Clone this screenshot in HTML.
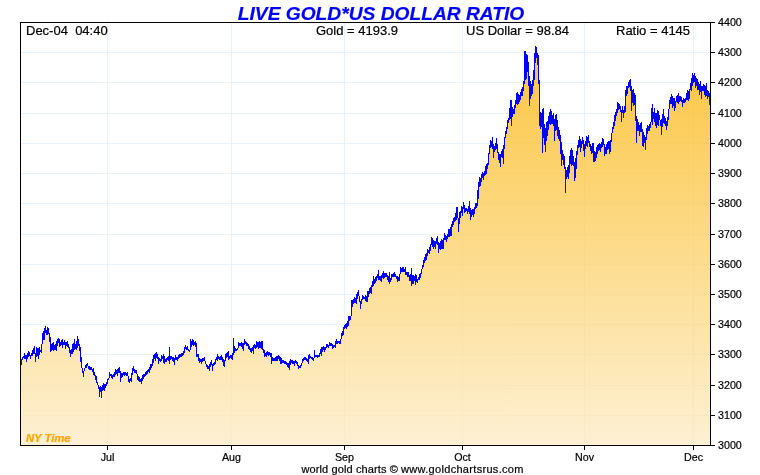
<!DOCTYPE html><html><head><meta charset="utf-8"><title>Live Gold*US Dollar Ratio</title><style>
html,body{margin:0;padding:0;background:#fff}body{width:760px;height:475px;position:relative;overflow:hidden;font-family:"Liberation Sans",Arial,sans-serif;color:#000}
.t{position:absolute;white-space:nowrap;line-height:1;-webkit-text-stroke:0.2px currentColor}
.title{font:italic bold 19.2px "Liberation Sans",Arial,sans-serif;color:#0000ff;left:1px;width:760px;text-align:center;top:3px}
.h{font-size:13px;top:24px}
.y{font-size:10.7px;left:718px}
.x{font-size:10.7px;top:452px;width:40px;text-align:center}
.ny{font:italic bold 11.25px "Liberation Sans",Arial,sans-serif;color:#ffa500;left:26px;top:432px}
.f{font-size:11px;left:301.5px;top:464px;letter-spacing:0.11px}.f span{letter-spacing:0.31px}
</style></head><body>
<svg width="760" height="475" viewBox="0 0 760 475" style="position:absolute;left:0;top:0" shape-rendering="crispEdges">
<defs><linearGradient id="g" gradientUnits="userSpaceOnUse" x1="0" y1="22" x2="0" y2="445"><stop offset="0" stop-color="#fcc338"/><stop offset="1" stop-color="#fdf0d3"/></linearGradient><clipPath id="c"><path d="M21,445V359H22V357H23V356H24V353H25V355H26V355H27V353H28V351H29V352H30V355H31V353H32V350H33V348H34V346H35V353H36V347H37V348H38V348H39V347H40V350H41V344H42V333H43V331H44V328H45V326H46V330H47V327H48V328H49V333H50V337H51V344H52V343H53V342H54V345H55V344H56V341H57V339H58V338H59V339H60V342H61V340H62V339H63V342H64V340H65V342H66V342H67V341H68V344H69V347H70V350H71V349H72V344H73V343H74V339H75V344H76V341H77V336H78V339H79V344H80V347H81V357H82V368H83V371H84V368H85V365H86V364H87V363H88V366H89V366H90V367H91V367H92V369H93V368H94V372H95V375H96V376H97V382H98V385H99V387H100V386H101V387H102V385H103V383H104V384H105V384H106V382H107V379H108V378H109V372H110V374H111V374H112V375H113V374H114V372H115V369H116V370H117V369H118V368H119V367H120V371H121V373H122V373H123V372H124V372H125V372H126V373H127V372H128V376H129V379H130V378H131V373H132V368H133V366H134V369H135V370H136V370H137V374H138V376H139V377H140V379H141V378H142V375H143V374H144V374H145V372H146V371H147V370H148V369H149V367H150V364H151V364H152V359H153V355H154V354H155V353H156V352H157V354H158V357H159V358H160V359H161V355H162V356H163V354H164V356H165V359H166V358H167V357H168V356H169V347H170V356H171V356H172V357H173V357H174V358H175V355H176V357H177V357H178V355H179V354H180V354H181V353H182V353H183V351H184V347H185V345H186V347H187V346H188V349H189V350H190V339H191V341H192V339H193V340H194V342H195V341H196V343H197V354H198V354H199V358H200V359H201V359H202V358H203V358H204V357H205V361H206V364H207V365H208V366H209V364H210V362H211V360H212V364H213V363H214V362H215V359H216V357H217V354H218V356H219V357H220V356H221V355H222V357H223V359H224V360H225V354H226V353H227V352H228V351H229V356H230V355H231V355H232V353H233V338H234V346H235V348H236V349H237V348H238V342H239V343H240V343H241V342H242V343H243V343H244V339H245V341H246V342H247V343H248V344H249V346H250V348H251V348H252V347H253V345H254V344H255V345H256V341H257V342H258V342H259V341H260V342H261V341H262V341H263V349H264V350H265V353H266V352H267V351H268V352H269V352H270V353H271V353H272V357H273V358H274V358H275V357H276V356H277V356H278V355H279V356H280V357H281V358H282V360H283V360H284V361H285V361H286V362H287V363H288V363H289V361H290V359H291V360H292V360H293V361H294V361H295V360H296V361H297V362H298V365H299V366H300V365H301V363H302V359H303V358H304V357H305V357H306V358H307V359H308V355H309V354H310V356H311V357H312V357H313V358H314V350H315V355H316V355H317V355H318V355H319V353H320V349H321V347H322V347H323V346H324V347H325V347H326V344H327V344H328V345H329V342H330V343H331V343H332V344H333V345H334V345H335V341H336V339H337V341H338V341H339V341H340V339H341V333H342V331H343V327H344V325H345V324H346V323H347V321H348V316H349V316H350V316H351V300H352V300H353V299H354V297H355V298H356V294H357V292H358V290H359V296H360V301H361V299H362V295H363V296H364V297H365V295H366V296H367V291H368V291H369V288H370V287H371V285H372V281H373V276H374V279H375V277H376V276H377V274H378V270H379V276H380V276H381V275H382V273H383V271H384V273H385V273H386V273H387V275H388V276H389V272H390V278H391V274H392V274H393V273H394V272H395V274H396V276H397V276H398V277H399V274H400V267H401V268H402V267H403V267H404V269H405V267H406V272H407V272H408V272H409V275H410V274H411V268H412V275H413V275H414V276H415V274H416V275H417V279H418V277H419V274H420V273H421V269H422V265H423V260H424V257H425V254H426V253H427V249H428V250H429V247H430V244H431V237H432V238H433V240H434V241H435V241H436V238H437V236H438V242H439V243H440V241H441V239H442V240H443V238H444V233H445V235H446V236H447V234H448V229H449V229H450V227H451V224H452V221H453V218H454V217H455V213H456V207H457V207H458V218H459V212H460V211H461V206H462V207H463V202H464V205H465V208H466V208H467V209H468V206H469V201H470V208H471V210H472V209H473V209H474V207H475V203H476V203H477V190H478V182H479V177H480V178H481V174H482V172H483V173H484V171H485V166H486V164H487V163H488V153H489V145H490V140H491V141H492V137H493V144H494V146H495V143H496V138H497V144H498V152H499V154H500V154H501V151H502V149H503V145H504V137H505V131H506V127H507V120H508V118H509V108H510V100H511V100H512V107H513V109H514V105H515V100H516V93H517V92H518V94H519V95H520V92H521V89H522V87H523V81H524V51H525V51H526V54H527V55H528V62H529V76H530V81H531V84H532V80H533V70H534V53H535V46H536V47H537V53H538V55H539V80H540V112H541V113H542V109H543V108H544V124H545V128H546V122H547V121H548V116H549V112H550V109H551V111H552V115H553V113H554V119H555V115H556V114H557V120H558V127H559V130H560V135H561V142H562V150H563V154H564V156H565V167H566V170H567V167H568V165H569V156H570V150H571V148H572V150H573V156H574V162H575V158H576V151H577V145H578V140H579V136H580V139H581V141H582V137H583V140H584V144H585V141H586V136H587V137H588V135H589V141H590V144H591V146H592V143H593V143H594V151H595V152H596V147H597V145H598V144H599V143H600V144H601V142H602V138H603V139H604V144H605V147H606V144H607V142H608V141H609V141H610V140H611V133H612V127H613V122H614V115H615V112H616V109H617V102H618V103H619V104H620V106H621V110H622V106H623V110H624V106H625V90H626V86H627V86H628V82H629V80H630V79H631V86H632V90H633V89H634V93H635V95H636V116H637V119H638V122H639V125H640V123H641V122H642V129H643V132H644V135H645V137H646V128H647V125H648V126H649V124H650V122H651V108H652V104H653V112H654V108H655V113H656V113H657V110H658V111H659V115H660V120H661V119H662V114H663V109H664V116H665V118H666V121H667V117H668V109H669V100H670V97H671V94H672V96H673V98H674V98H675V101H676V96H677V95H678V93H679V96H680V96H681V97H682V100H683V98H684V99H685V98H686V93H687V90H688V91H689V89H690V83H691V78H692V73H693V75H694V73H695V76H696V78H697V79H698V82H699V84H700V81H701V86H702V86H703V84H704V85H705V86H706V83H707V90H708V91H709V93H710V445Z"/></clipPath></defs>
<rect x="0" y="0" width="760" height="475" fill="#fff"/>
<rect x="21" y="415" width="689" height="1" fill="#e7f2fb"/>
<rect x="21" y="385" width="689" height="1" fill="#e7f2fb"/>
<rect x="21" y="354" width="689" height="1" fill="#e7f2fb"/>
<rect x="21" y="324" width="689" height="1" fill="#e7f2fb"/>
<rect x="21" y="294" width="689" height="1" fill="#e7f2fb"/>
<rect x="21" y="264" width="689" height="1" fill="#e7f2fb"/>
<rect x="21" y="234" width="689" height="1" fill="#e7f2fb"/>
<rect x="21" y="203" width="689" height="1" fill="#e7f2fb"/>
<rect x="21" y="173" width="689" height="1" fill="#e7f2fb"/>
<rect x="21" y="143" width="689" height="1" fill="#e7f2fb"/>
<rect x="21" y="113" width="689" height="1" fill="#e7f2fb"/>
<rect x="21" y="82" width="689" height="1" fill="#e7f2fb"/>
<rect x="21" y="52" width="689" height="1" fill="#e7f2fb"/>
<rect x="107" y="23" width="1" height="422" fill="#e7f2fb"/>
<rect x="231" y="23" width="1" height="422" fill="#e7f2fb"/>
<rect x="344" y="23" width="1" height="422" fill="#e7f2fb"/>
<rect x="462" y="23" width="1" height="422" fill="#e7f2fb"/>
<rect x="584" y="23" width="1" height="422" fill="#e7f2fb"/>
<rect x="693" y="23" width="1" height="422" fill="#e7f2fb"/>
<path d="M21,445V359H22V357H23V356H24V353H25V355H26V355H27V353H28V351H29V352H30V355H31V353H32V350H33V348H34V346H35V353H36V347H37V348H38V348H39V347H40V350H41V344H42V333H43V331H44V328H45V326H46V330H47V327H48V328H49V333H50V337H51V344H52V343H53V342H54V345H55V344H56V341H57V339H58V338H59V339H60V342H61V340H62V339H63V342H64V340H65V342H66V342H67V341H68V344H69V347H70V350H71V349H72V344H73V343H74V339H75V344H76V341H77V336H78V339H79V344H80V347H81V357H82V368H83V371H84V368H85V365H86V364H87V363H88V366H89V366H90V367H91V367H92V369H93V368H94V372H95V375H96V376H97V382H98V385H99V387H100V386H101V387H102V385H103V383H104V384H105V384H106V382H107V379H108V378H109V372H110V374H111V374H112V375H113V374H114V372H115V369H116V370H117V369H118V368H119V367H120V371H121V373H122V373H123V372H124V372H125V372H126V373H127V372H128V376H129V379H130V378H131V373H132V368H133V366H134V369H135V370H136V370H137V374H138V376H139V377H140V379H141V378H142V375H143V374H144V374H145V372H146V371H147V370H148V369H149V367H150V364H151V364H152V359H153V355H154V354H155V353H156V352H157V354H158V357H159V358H160V359H161V355H162V356H163V354H164V356H165V359H166V358H167V357H168V356H169V347H170V356H171V356H172V357H173V357H174V358H175V355H176V357H177V357H178V355H179V354H180V354H181V353H182V353H183V351H184V347H185V345H186V347H187V346H188V349H189V350H190V339H191V341H192V339H193V340H194V342H195V341H196V343H197V354H198V354H199V358H200V359H201V359H202V358H203V358H204V357H205V361H206V364H207V365H208V366H209V364H210V362H211V360H212V364H213V363H214V362H215V359H216V357H217V354H218V356H219V357H220V356H221V355H222V357H223V359H224V360H225V354H226V353H227V352H228V351H229V356H230V355H231V355H232V353H233V338H234V346H235V348H236V349H237V348H238V342H239V343H240V343H241V342H242V343H243V343H244V339H245V341H246V342H247V343H248V344H249V346H250V348H251V348H252V347H253V345H254V344H255V345H256V341H257V342H258V342H259V341H260V342H261V341H262V341H263V349H264V350H265V353H266V352H267V351H268V352H269V352H270V353H271V353H272V357H273V358H274V358H275V357H276V356H277V356H278V355H279V356H280V357H281V358H282V360H283V360H284V361H285V361H286V362H287V363H288V363H289V361H290V359H291V360H292V360H293V361H294V361H295V360H296V361H297V362H298V365H299V366H300V365H301V363H302V359H303V358H304V357H305V357H306V358H307V359H308V355H309V354H310V356H311V357H312V357H313V358H314V350H315V355H316V355H317V355H318V355H319V353H320V349H321V347H322V347H323V346H324V347H325V347H326V344H327V344H328V345H329V342H330V343H331V343H332V344H333V345H334V345H335V341H336V339H337V341H338V341H339V341H340V339H341V333H342V331H343V327H344V325H345V324H346V323H347V321H348V316H349V316H350V316H351V300H352V300H353V299H354V297H355V298H356V294H357V292H358V290H359V296H360V301H361V299H362V295H363V296H364V297H365V295H366V296H367V291H368V291H369V288H370V287H371V285H372V281H373V276H374V279H375V277H376V276H377V274H378V270H379V276H380V276H381V275H382V273H383V271H384V273H385V273H386V273H387V275H388V276H389V272H390V278H391V274H392V274H393V273H394V272H395V274H396V276H397V276H398V277H399V274H400V267H401V268H402V267H403V267H404V269H405V267H406V272H407V272H408V272H409V275H410V274H411V268H412V275H413V275H414V276H415V274H416V275H417V279H418V277H419V274H420V273H421V269H422V265H423V260H424V257H425V254H426V253H427V249H428V250H429V247H430V244H431V237H432V238H433V240H434V241H435V241H436V238H437V236H438V242H439V243H440V241H441V239H442V240H443V238H444V233H445V235H446V236H447V234H448V229H449V229H450V227H451V224H452V221H453V218H454V217H455V213H456V207H457V207H458V218H459V212H460V211H461V206H462V207H463V202H464V205H465V208H466V208H467V209H468V206H469V201H470V208H471V210H472V209H473V209H474V207H475V203H476V203H477V190H478V182H479V177H480V178H481V174H482V172H483V173H484V171H485V166H486V164H487V163H488V153H489V145H490V140H491V141H492V137H493V144H494V146H495V143H496V138H497V144H498V152H499V154H500V154H501V151H502V149H503V145H504V137H505V131H506V127H507V120H508V118H509V108H510V100H511V100H512V107H513V109H514V105H515V100H516V93H517V92H518V94H519V95H520V92H521V89H522V87H523V81H524V51H525V51H526V54H527V55H528V62H529V76H530V81H531V84H532V80H533V70H534V53H535V46H536V47H537V53H538V55H539V80H540V112H541V113H542V109H543V108H544V124H545V128H546V122H547V121H548V116H549V112H550V109H551V111H552V115H553V113H554V119H555V115H556V114H557V120H558V127H559V130H560V135H561V142H562V150H563V154H564V156H565V167H566V170H567V167H568V165H569V156H570V150H571V148H572V150H573V156H574V162H575V158H576V151H577V145H578V140H579V136H580V139H581V141H582V137H583V140H584V144H585V141H586V136H587V137H588V135H589V141H590V144H591V146H592V143H593V143H594V151H595V152H596V147H597V145H598V144H599V143H600V144H601V142H602V138H603V139H604V144H605V147H606V144H607V142H608V141H609V141H610V140H611V133H612V127H613V122H614V115H615V112H616V109H617V102H618V103H619V104H620V106H621V110H622V106H623V110H624V106H625V90H626V86H627V86H628V82H629V80H630V79H631V86H632V90H633V89H634V93H635V95H636V116H637V119H638V122H639V125H640V123H641V122H642V129H643V132H644V135H645V137H646V128H647V125H648V126H649V124H650V122H651V108H652V104H653V112H654V108H655V113H656V113H657V110H658V111H659V115H660V120H661V119H662V114H663V109H664V116H665V118H666V121H667V117H668V109H669V100H670V97H671V94H672V96H673V98H674V98H675V101H676V96H677V95H678V93H679V96H680V96H681V97H682V100H683V98H684V99H685V98H686V93H687V90H688V91H689V89H690V83H691V78H692V73H693V75H694V73H695V76H696V78H697V79H698V82H699V84H700V81H701V86H702V86H703V84H704V85H705V86H706V83H707V90H708V91H709V93H710V445Z" fill="url(#g)"/>
<g clip-path="url(#c)" fill="#806020" opacity="0.028">
<rect x="107" y="23" width="1" height="422"/>
<rect x="231" y="23" width="1" height="422"/>
<rect x="344" y="23" width="1" height="422"/>
<rect x="462" y="23" width="1" height="422"/>
<rect x="584" y="23" width="1" height="422"/>
<rect x="693" y="23" width="1" height="422"/>
<rect x="21" y="415" width="689" height="1"/>
<rect x="21" y="385" width="689" height="1"/>
<rect x="21" y="354" width="689" height="1"/>
<rect x="21" y="324" width="689" height="1"/>
<rect x="21" y="294" width="689" height="1"/>
<rect x="21" y="264" width="689" height="1"/>
<rect x="21" y="234" width="689" height="1"/>
<rect x="21" y="203" width="689" height="1"/>
<rect x="21" y="173" width="689" height="1"/>
<rect x="21" y="143" width="689" height="1"/>
<rect x="21" y="113" width="689" height="1"/>
<rect x="21" y="82" width="689" height="1"/>
<rect x="21" y="52" width="689" height="1"/>
</g>
<path d="M21,365V359H22V357H23V356H24V353H25V355H26V355H27V353H28V351H29V352H30V355H31V353H32V350H33V348H34V346H35V353H36V347H37V348H38V348H39V347H40V350H41V344H42V333H43V331H44V328H45V326H46V330H47V327H48V328H49V333H50V337H51V344H52V343H53V342H54V345H55V344H56V341H57V339H58V338H59V339H60V342H61V340H62V339H63V342H64V340H65V342H66V342H67V341H68V344H69V347H70V350H71V349H72V344H73V343H74V339H75V344H76V341H77V336H78V339H79V344H80V347H81V357H82V368H83V371H84V368H85V365H86V364H87V363H88V366H89V366H90V367H91V367H92V369H93V368H94V372H95V375H96V376H97V382H98V385H99V387H100V386H101V387H102V385H103V383H104V384H105V384H106V382H107V379H108V378H109V372H110V374H111V374H112V375H113V374H114V372H115V369H116V370H117V369H118V368H119V367H120V371H121V373H122V373H123V372H124V372H125V372H126V373H127V372H128V376H129V379H130V378H131V373H132V368H133V366H134V369H135V370H136V370H137V374H138V376H139V377H140V379H141V378H142V375H143V374H144V374H145V372H146V371H147V370H148V369H149V367H150V364H151V364H152V359H153V355H154V354H155V353H156V352H157V354H158V357H159V358H160V359H161V355H162V356H163V354H164V356H165V359H166V358H167V357H168V356H169V347H170V356H171V356H172V357H173V357H174V358H175V355H176V357H177V357H178V355H179V354H180V354H181V353H182V353H183V351H184V347H185V345H186V347H187V346H188V349H189V350H190V339H191V341H192V339H193V340H194V342H195V341H196V343H197V354H198V354H199V358H200V359H201V359H202V358H203V358H204V357H205V361H206V364H207V365H208V366H209V364H210V362H211V360H212V364H213V363H214V362H215V359H216V357H217V354H218V356H219V357H220V356H221V355H222V357H223V359H224V360H225V354H226V353H227V352H228V351H229V356H230V355H231V355H232V353H233V338H234V346H235V348H236V349H237V348H238V342H239V343H240V343H241V342H242V343H243V343H244V339H245V341H246V342H247V343H248V344H249V346H250V348H251V348H252V347H253V345H254V344H255V345H256V341H257V342H258V342H259V341H260V342H261V341H262V341H263V349H264V350H265V353H266V352H267V351H268V352H269V352H270V353H271V353H272V357H273V358H274V358H275V357H276V356H277V356H278V355H279V356H280V357H281V358H282V360H283V360H284V361H285V361H286V362H287V363H288V363H289V361H290V359H291V360H292V360H293V361H294V361H295V360H296V361H297V362H298V365H299V366H300V365H301V363H302V359H303V358H304V357H305V357H306V358H307V359H308V355H309V354H310V356H311V357H312V357H313V358H314V350H315V355H316V355H317V355H318V355H319V353H320V349H321V347H322V347H323V346H324V347H325V347H326V344H327V344H328V345H329V342H330V343H331V343H332V344H333V345H334V345H335V341H336V339H337V341H338V341H339V341H340V339H341V333H342V331H343V327H344V325H345V324H346V323H347V321H348V316H349V316H350V316H351V300H352V300H353V299H354V297H355V298H356V294H357V292H358V290H359V296H360V301H361V299H362V295H363V296H364V297H365V295H366V296H367V291H368V291H369V288H370V287H371V285H372V281H373V276H374V279H375V277H376V276H377V274H378V270H379V276H380V276H381V275H382V273H383V271H384V273H385V273H386V273H387V275H388V276H389V272H390V278H391V274H392V274H393V273H394V272H395V274H396V276H397V276H398V277H399V274H400V267H401V268H402V267H403V267H404V269H405V267H406V272H407V272H408V272H409V275H410V274H411V268H412V275H413V275H414V276H415V274H416V275H417V279H418V277H419V274H420V273H421V269H422V265H423V260H424V257H425V254H426V253H427V249H428V250H429V247H430V244H431V237H432V238H433V240H434V241H435V241H436V238H437V236H438V242H439V243H440V241H441V239H442V240H443V238H444V233H445V235H446V236H447V234H448V229H449V229H450V227H451V224H452V221H453V218H454V217H455V213H456V207H457V207H458V218H459V212H460V211H461V206H462V207H463V202H464V205H465V208H466V208H467V209H468V206H469V201H470V208H471V210H472V209H473V209H474V207H475V203H476V203H477V190H478V182H479V177H480V178H481V174H482V172H483V173H484V171H485V166H486V164H487V163H488V153H489V145H490V140H491V141H492V137H493V144H494V146H495V143H496V138H497V144H498V152H499V154H500V154H501V151H502V149H503V145H504V137H505V131H506V127H507V120H508V118H509V108H510V100H511V100H512V107H513V109H514V105H515V100H516V93H517V92H518V94H519V95H520V92H521V89H522V87H523V81H524V51H525V51H526V54H527V55H528V62H529V76H530V81H531V84H532V80H533V70H534V53H535V46H536V47H537V53H538V55H539V80H540V112H541V113H542V109H543V108H544V124H545V128H546V122H547V121H548V116H549V112H550V109H551V111H552V115H553V113H554V119H555V115H556V114H557V120H558V127H559V130H560V135H561V142H562V150H563V154H564V156H565V167H566V170H567V167H568V165H569V156H570V150H571V148H572V150H573V156H574V162H575V158H576V151H577V145H578V140H579V136H580V139H581V141H582V137H583V140H584V144H585V141H586V136H587V137H588V135H589V141H590V144H591V146H592V143H593V143H594V151H595V152H596V147H597V145H598V144H599V143H600V144H601V142H602V138H603V139H604V144H605V147H606V144H607V142H608V141H609V141H610V140H611V133H612V127H613V122H614V115H615V112H616V109H617V102H618V103H619V104H620V106H621V110H622V106H623V110H624V106H625V90H626V86H627V86H628V82H629V80H630V79H631V86H632V90H633V89H634V93H635V95H636V116H637V119H638V122H639V125H640V123H641V122H642V129H643V132H644V135H645V137H646V128H647V125H648V126H649V124H650V122H651V108H652V104H653V112H654V108H655V113H656V113H657V110H658V111H659V115H660V120H661V119H662V114H663V109H664V116H665V118H666V121H667V117H668V109H669V100H670V97H671V94H672V96H673V98H674V98H675V101H676V96H677V95H678V93H679V96H680V96H681V97H682V100H683V98H684V99H685V98H686V93H687V90H688V91H689V89H690V83H691V78H692V73H693V75H694V73H695V76H696V78H697V79H698V82H699V84H700V81H701V86H702V86H703V84H704V85H705V86H706V83H707V90H708V91H709V93H710V105H709V97H708V99H707V96H706V97H705V95H704V91H703V91H702V99H701V92H700V95H699V90H698V90H697V86H696V88H695V82H694V83H693V86H692V91H691V90H690V99H689V101H688V100H687V100H686V102H685V103H684V103H683V107H682V102H681V101H680V102H679V104H678V103H677V102H676V108H675V111H674V106H673V108H672V104H671V104H670V109H669V120H668V126H667V130H666V126H665V124H664V123H663V127H662V135H661V126H660V120H659V126H658V125H657V128H656V126H655V122H654V119H653V125H652V122H651V128H650V131H649V131H648V134H647V140H646V150H645V143H644V147H643V146H642V132H641V132H640V136H639V131H638V131H637V143H636V121H635V105H634V106H633V103H632V111H631V91H630V87H629V88H628V94H627V96H626V112H625V113H624V118H623V113H622V122H621V112H620V109H619V110H618V113H617V116H616V121H615V126H614V129H613V133H612V142H611V152H610V154H609V149H608V150H607V154H606V154H605V156H604V145H603V147H602V148H601V152H600V150H599V151H598V154H597V158H596V161H595V162H594V162H593V153H592V154H591V151H590V147H589V143H588V147H587V146H586V149H585V157H584V151H583V144H582V148H581V152H580V147H579V148H578V155H577V169H576V178H575V181H574V166H573V165H572V166H571V164H570V173H569V179H568V177H567V179H566V193H565V169H564V165H563V160H562V166H561V154H560V141H559V139H558V136H557V130H556V131H555V141H554V126H553V124H552V124H551V125H550V124H549V130H548V136H547V141H546V152H545V145H544V138H543V153H542V127H541V129H540V126H539V84H538V65H537V58H536V63H535V80H534V86H533V94H532V96H531V99H530V106H529V86H528V72H527V79H526V80H525V84H524V91H523V96H522V96H521V100H520V102H519V104H518V105H517V104H516V108H515V114H514V114H513V117H512V126H511V119H510V120H509V123H508V129H507V134H506V138H505V149H504V164H503V158H502V157H501V167H500V163H499V160H498V153H497V149H496V150H495V152H494V158H493V149H492V147H491V148H490V154H489V165H488V169H487V174H486V175H485V176H484V180H483V178H482V182H481V186H480V187H479V199H478V206H477V208H476V209H475V214H474V217H473V215H472V217H471V220H470V214H469V212H468V214H467V211H466V212H465V213H464V209H463V216H462V213H461V218H460V224H459V232H458V218H457V220H456V221H455V222H454V225H453V227H452V236H451V236H450V237H449V237H448V239H447V242H446V240H445V240H444V249H443V249H442V249H441V250H440V249H439V253H438V245H437V244H436V249H435V247H434V249H433V247H432V245H431V251H430V254H429V253H428V256H427V260H426V261H425V263H424V267H423V269H422V274H421V278H420V280H419V280H418V283H417V282H416V285H415V281H414V284H413V284H412V286H411V281H410V281H409V277H408V277H407V275H406V275H405V272H404V272H403V272H402V272H401V274H400V281H399V281H398V282H397V279H396V277H395V277H394V277H393V277H392V280H391V282H390V284H389V282H388V280H387V277H386V277H385V278H384V279H383V278H382V282H381V281H380V280H379V280H378V278H377V281H376V283H375V284H374V286H373V287H372V294H371V293H370V294H369V297H368V302H367V302H366V301H365V299H364V299H363V300H362V304H361V309H360V302H359V296H358V299H357V304H356V303H355V303H354V304H353V307H352V316H351V320H350V321H349V326H348V327H347V329H346V328H345V329H344V335H343V336H342V339H341V344H340V344H339V343H338V344H337V344H336V348H335V347H334V348H333V349H332V346H331V346H330V346H329V348H328V347H327V348H326V350H325V352H324V350H323V352H322V356H321V354H320V357H319V357H318V358H317V357H316V357H315V358H314V361H313V360H312V359H311V358H310V359H309V364H308V362H307V361H306V360H305V360H304V361H303V363H302V366H301V368H300V368H299V369H298V366H297V364H296V363H295V366H294V364H293V364H292V363H291V365H290V370H289V368H288V367H287V365H286V364H285V364H284V363H283V363H282V364H281V364H280V361H279V359H278V361H277V361H276V361H275V361H274V361H273V361H272V364H271V357H270V355H269V356H268V355H267V357H266V356H265V357H264V353H263V350H262V349H261V348H260V348H259V349H258V347H257V348H256V349H255V348H254V354H253V351H252V353H251V352H250V350H249V349H248V346H247V346H246V344H245V345H244V351H243V349H242V347H241V346H240V346H239V348H238V350H237V351H236V351H235V353H234V355H233V360H232V359H231V358H230V359H229V360H228V357H227V358H226V361H225V367H224V366H223V362H222V360H221V360H220V360H219V359H218V361H217V360H216V364H215V365H214V366H213V371H212V365H211V367H210V371H209V369H208V369H207V367H206V364H205V361H204V361H203V362H202V364H201V362H200V363H199V361H198V357H197V357H196V347H195V345H194V346H193V345H192V347H191V350H190V352H189V351H188V350H187V350H186V349H185V353H184V355H183V356H182V357H181V357H180V358H179V359H178V361H177V360H176V360H175V365H174V362H173V361H172V359H171V360H170V364H169V361H168V360H167V362H166V362H165V364H164V363H163V359H162V361H161V362H160V361H159V364H158V359H157V358H156V361H155V359H154V363H153V366H152V368H151V370H150V373H149V372H148V374H147V375H146V376H145V377H144V379H143V381H142V384H141V382H140V382H139V381H138V380H137V374H136V373H135V373H134V371H133V375H132V382H131V381H130V383H129V382H128V376H127V376H126V375H125V376H124V375H123V377H122V378H121V382H120V373H119V373H118V376H117V374H116V375H115V377H114V377H113V379H112V378H111V376H110V378H109V380H108V384H107V386H106V388H105V391H104V390H103V391H102V398H101V392H100V397H99V389H98V385H97V383H96V380H95V376H94V375H93V372H92V370H91V370H90V370H89V369H88V366H87V368H86V368H85V371H84V377H83V373H82V368H81V362H80V351H79V346H78V348H77V350H76V349H75V350H74V352H73V354H72V354H71V357H70V353H69V348H68V347H67V346H66V349H65V345H64V345H63V348H62V345H61V346H60V347H59V343H58V346H57V351H56V350H55V350H54V351H53V350H52V351H51V352H50V342H49V334H48V335H47V335H46V333H45V340H44V340H43V344H42V353H41V352H40V355H39V359H38V356H37V357H36V362H35V354H34V354H33V356H32V356H31V359H30V356H29V357H28V359H27V362H26V359H25V359H24V358H23V360H22V365H21Z" fill="#0000ff"/>
<rect x="20" y="22" width="691" height="1" fill="#000"/>
<rect x="20" y="445" width="691" height="1" fill="#000"/>
<rect x="20" y="22" width="1" height="424" fill="#000"/>
<rect x="710" y="22" width="1" height="424" fill="#000"/>
<rect x="711" y="445" width="4" height="1" fill="#000"/>
<rect x="711" y="415" width="4" height="1" fill="#000"/>
<rect x="711" y="385" width="4" height="1" fill="#000"/>
<rect x="711" y="354" width="4" height="1" fill="#000"/>
<rect x="711" y="324" width="4" height="1" fill="#000"/>
<rect x="711" y="294" width="4" height="1" fill="#000"/>
<rect x="711" y="264" width="4" height="1" fill="#000"/>
<rect x="711" y="234" width="4" height="1" fill="#000"/>
<rect x="711" y="203" width="4" height="1" fill="#000"/>
<rect x="711" y="173" width="4" height="1" fill="#000"/>
<rect x="711" y="143" width="4" height="1" fill="#000"/>
<rect x="711" y="113" width="4" height="1" fill="#000"/>
<rect x="711" y="82" width="4" height="1" fill="#000"/>
<rect x="711" y="52" width="4" height="1" fill="#000"/>
<rect x="711" y="22" width="4" height="1" fill="#000"/>
<rect x="107" y="446" width="1" height="4" fill="#000"/>
<rect x="231" y="446" width="1" height="4" fill="#000"/>
<rect x="344" y="446" width="1" height="4" fill="#000"/>
<rect x="462" y="446" width="1" height="4" fill="#000"/>
<rect x="584" y="446" width="1" height="4" fill="#000"/>
<rect x="693" y="446" width="1" height="4" fill="#000"/>
</svg>
<div class="t title">LIVE GOLD*US DOLLAR RATIO</div>
<div class="t h" style="left:26px">Dec-04&nbsp;&nbsp;04:40</div>
<div class="t h" style="left:316px">Gold = 4193.9</div>
<div class="t h" style="left:466px">US Dollar = 98.84</div>
<div class="t h" style="left:616px">Ratio = 4145</div>
<div class="t y" style="top:440px">3000</div>
<div class="t y" style="top:410px">3100</div>
<div class="t y" style="top:380px">3200</div>
<div class="t y" style="top:349px">3300</div>
<div class="t y" style="top:319px">3400</div>
<div class="t y" style="top:289px">3500</div>
<div class="t y" style="top:259px">3600</div>
<div class="t y" style="top:229px">3700</div>
<div class="t y" style="top:198px">3800</div>
<div class="t y" style="top:168px">3900</div>
<div class="t y" style="top:138px">4000</div>
<div class="t y" style="top:108px">4100</div>
<div class="t y" style="top:77px">4200</div>
<div class="t y" style="top:47px">4300</div>
<div class="t y" style="top:17px">4400</div>
<div class="t x" style="left:87.5px">Jul</div>
<div class="t x" style="left:211.5px">Aug</div>
<div class="t x" style="left:324.5px">Sep</div>
<div class="t x" style="left:442.5px">Oct</div>
<div class="t x" style="left:564.5px">Nov</div>
<div class="t x" style="left:673.5px">Dec</div>
<div class="t ny">NY Time</div>
<div class="t f">world gold charts © <span>www.goldchartsrus.com</span></div>
</body></html>
